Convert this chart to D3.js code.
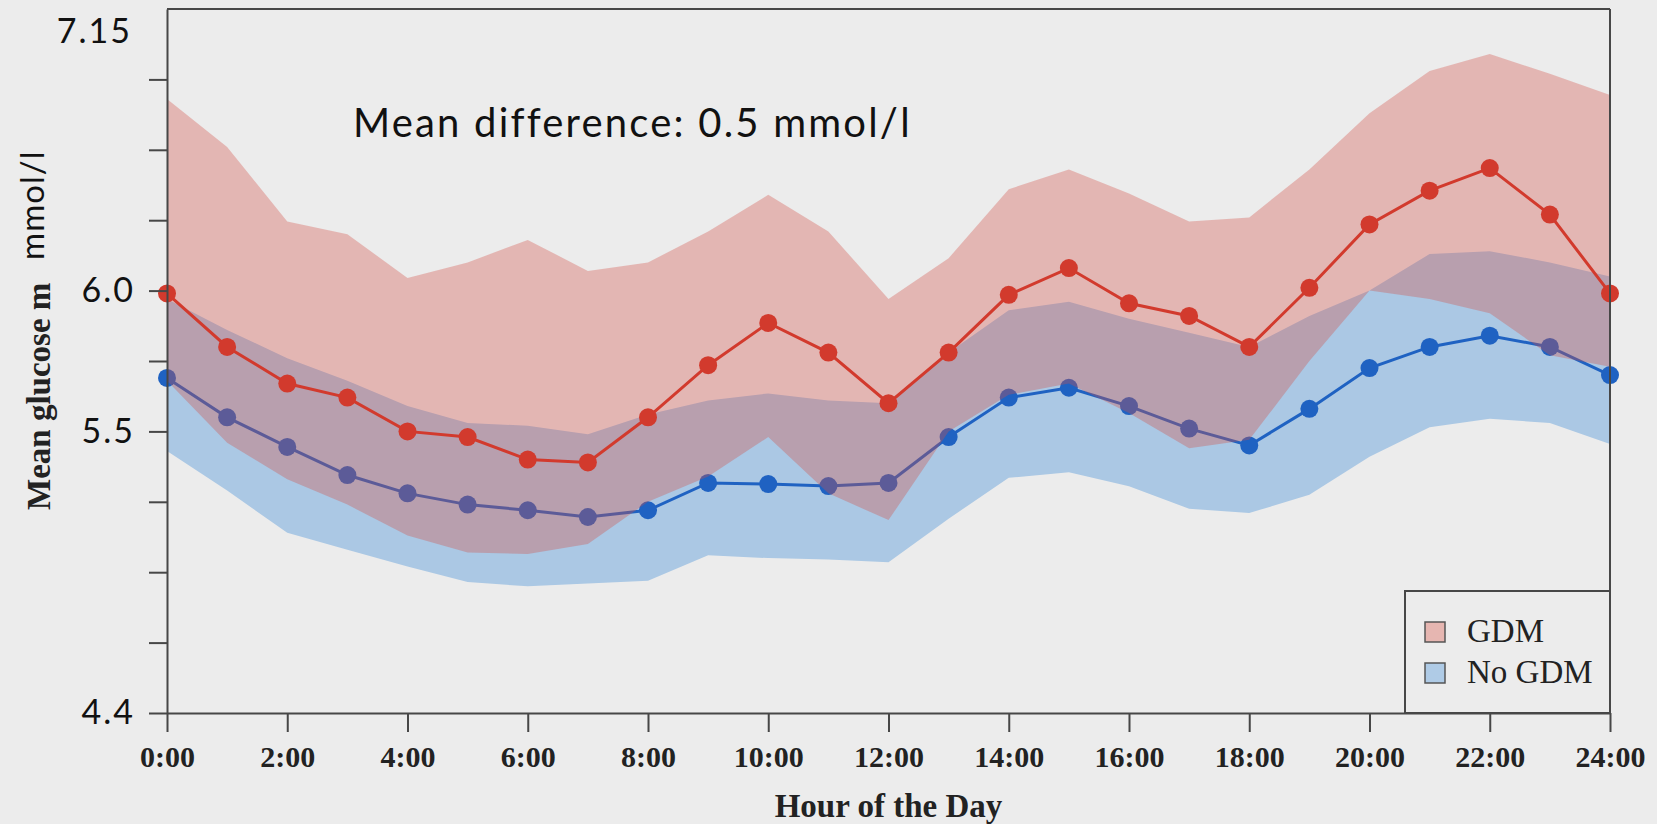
<!DOCTYPE html>
<meta charset="utf-8">
<head>
<style>
  body { margin: 0; background: #ececec; }
  svg { display: block; }
  .axis path, .axis line { stroke: #474747; stroke-width: 2px; }
  .ylab text { font-family: "Lato", sans-serif; font-size: 34px; letter-spacing: 2px; fill: #111; }
  .xlab text { font-family: "Liberation Serif", serif; font-weight: bold; font-size: 30px; fill: #222; }
</style>
</head>
<body>
<script src="https://d3js.org/d3.v7.min.js"></script>
<script>
// hours of the day
var hours = d3.range(0, 25);

// GDM group: mean and band
var gdmMean  = [5.99, 5.80, 5.67, 5.62, 5.50, 5.48, 5.40, 5.39, 5.55, 5.735, 5.885, 5.78, 5.60,
                5.78, 5.985, 6.08, 5.955, 5.91, 5.80, 6.01, 6.235, 6.355, 6.435, 6.27, 5.99];
var gdmUpper = [6.68, 6.51, 6.245, 6.20, 6.045, 6.10, 6.18, 6.07, 6.10, 6.21, 6.34, 6.21, 5.97,
                6.115, 6.36, 6.43, 6.345, 6.245, 6.26, 6.43, 6.63, 6.78, 6.84, 6.77, 6.695];
var gdmLower = [5.68, 5.46, 5.33, 5.24, 5.13, 5.07, 5.065, 5.10, 5.25, 5.34, 5.48, 5.28, 5.185,
                5.50, 5.63, 5.67, 5.565, 5.44, 5.47, 5.75, 6.0, 5.97, 5.92, 5.77, 5.73];

// No GDM group: mean and band
var noMean  = [5.69, 5.55, 5.445, 5.345, 5.28, 5.24, 5.22, 5.196, 5.22, 5.317, 5.313, 5.306, 5.317,
               5.48, 5.62, 5.655, 5.59, 5.51, 5.45, 5.58, 5.725, 5.80, 5.84, 5.80, 5.70];
var noUpper = [5.97, 5.86, 5.76, 5.68, 5.59, 5.53, 5.52, 5.49, 5.56, 5.61, 5.635, 5.61, 5.60,
               5.78, 5.93, 5.96, 5.90, 5.85, 5.80, 5.91, 6.0, 6.13, 6.14, 6.10, 6.05];
var noLower = [5.43, 5.29, 5.14, 5.08, 5.02, 4.965, 4.95, 4.96, 4.97, 5.06, 5.05, 5.045, 5.035,
               5.19, 5.335, 5.355, 5.305, 5.225, 5.21, 5.275, 5.41, 5.515, 5.545, 5.53, 5.455];

// axis ticks (labels as printed on the figure)
var xTicks = d3.range(0, 25, 2);
var yTicks = [4.5, 4.75, 5.0, 5.25, 5.5, 5.75, 6.0, 6.25, 6.5, 6.75];
var yTickText = ["4.4", "", "", "", "5.5", "", "6.0", "", "", ""];
var yTopText = "7.15";

var legendItems = [
  { name: "GDM", fill: "#e6b6b1" },
  { name: "No GDM", fill: "#afcbe6" }
];

var W = 1657, H = 824;
var margin = { top: 9, right: 47, bottom: 111, left: 167 },
    width = W - margin.left - margin.right,
    height = H - margin.top - margin.bottom;

var svg = d3.select("body").append("svg")
    .attr("width", W)
    .attr("height", H);

var g = svg.append("g")
    .attr("transform", "translate(" + margin.left + "," + margin.top + ")");

var x = d3.scaleLinear().domain([0, 24]).range([0, width]);
var y = d3.scaleLinear().domain([4.5, 7.0]).range([height, 0]);

var rows = hours.map(function(h, i) {
  return { h: h, gm: gdmMean[i], gu: gdmUpper[i], gl: gdmLower[i],
           nm: noMean[i], nu: noUpper[i], nl: noLower[i] };
});

// no GDM band + line
g.append("path").datum(rows)
  .attr("fill", "#abc8e4")
  .attr("d", d3.area().x(function(d) { return x(d.h); })
                      .y0(function(d) { return y(d.nl); })
                      .y1(function(d) { return y(d.nu); }));

g.append("path").datum(rows)
  .attr("fill", "none").attr("stroke", "#1f62c2").attr("stroke-width", 3)
  .attr("d", d3.line().x(function(d) { return x(d.h); }).y(function(d) { return y(d.nm); }));

g.selectAll(".dotN").data(rows).enter().append("circle")
  .attr("class", "dotN")
  .attr("cx", function(d) { return x(d.h); })
  .attr("cy", function(d) { return y(d.nm); })
  .attr("r", 9)
  .attr("fill", "#1f62c2");

// GDM band (translucent, over the blue) + line
g.append("path").datum(rows)
  .attr("fill", "rgb(212,78,71)").attr("fill-opacity", 0.34)
  .attr("d", d3.area().x(function(d) { return x(d.h); })
                      .y0(function(d) { return y(d.gl); })
                      .y1(function(d) { return y(d.gu); }));

g.append("path").datum(rows)
  .attr("fill", "none").attr("stroke", "#d23a2d").attr("stroke-width", 3)
  .attr("d", d3.line().x(function(d) { return x(d.h); }).y(function(d) { return y(d.gm); }));

g.selectAll(".dotG").data(rows).enter().append("circle")
  .attr("class", "dotG")
  .attr("cx", function(d) { return x(d.h); })
  .attr("cy", function(d) { return y(d.gm); })
  .attr("r", 9)
  .attr("fill", "#d23a2d");

// frame: top and right
g.append("line").attr("x1", 0).attr("x2", width).attr("y1", 0).attr("y2", 0)
  .attr("stroke", "#474747").attr("stroke-width", 2);
g.append("line").attr("x1", width).attr("x2", width).attr("y1", 0).attr("y2", height)
  .attr("stroke", "#474747").attr("stroke-width", 2);

// x axis
g.append("g")
  .attr("class", "axis xlab")
  .attr("transform", "translate(0," + height + ")")
  .call(d3.axisBottom(x).tickValues(xTicks).tickSize(19).tickPadding(14)
        .tickSizeOuter(0)
        .tickFormat(function(d) { return d + ":00"; }));

// y axis
g.append("g")
  .attr("class", "axis ylab")
  .call(d3.axisLeft(y).tickValues(yTicks).tickSize(18).tickPadding(14)
        .tickSizeOuter(0)
        .tickFormat(function(d, i) { return yTickText[i]; }));

g.append("text")
  .attr("x", -35).attr("y", y(7.0) + 22)
  .attr("dy", "0.35em")
  .attr("text-anchor", "end")
  .style("font-family", "Lato, sans-serif").style("font-size", "34px")
  .style("letter-spacing", "2px").style("fill", "#111")
  .text(yTopText);

// axis titles
g.append("text")
  .attr("x", width / 2).attr("y", height + 104)
  .attr("text-anchor", "middle")
  .style("font-family", "Liberation Serif, serif").style("font-weight", "bold")
  .style("font-size", "33px").style("fill", "#222")
  .text("Hour of the Day");

svg.append("text")
  .attr("transform", "translate(50,510) rotate(-90)")
  .attr("text-anchor", "start")
  .style("font-family", "Liberation Serif, serif").style("font-weight", "bold")
  .style("font-size", "33px").style("fill", "#222")
  .text("Mean glucose m");

svg.append("text")
  .attr("transform", "translate(44,260) rotate(-90)")
  .attr("text-anchor", "start")
  .style("font-family", "Lato, sans-serif")
  .style("font-size", "33px").style("letter-spacing", "1px").style("fill", "#111")
  .text("mmol/l");

// annotation
g.append("text")
  .attr("x", 186).attr("y", 128)
  .style("font-family", "Lato, sans-serif")
  .style("font-size", "40px").style("letter-spacing", "2.2px").style("fill", "#111")
  .text("Mean difference: 0.5 mmol/l");

// legend
var lg = g.append("g").attr("transform", "translate(" + (width - 205) + "," + (height - 122) + ")");
lg.append("rect").attr("width", 205).attr("height", 122)
  .attr("fill", "#ececec").attr("stroke", "#474747").attr("stroke-width", 2);
var li = lg.selectAll(".li").data(legendItems).enter().append("g")
  .attr("transform", function(d, i) { return "translate(20," + (31 + i * 41) + ")"; });
li.append("rect").attr("width", 20).attr("height", 20)
  .attr("fill", function(d) { return d.fill; })
  .attr("stroke", "#555").attr("stroke-width", 1.5);
li.append("text").attr("x", 42).attr("y", 20)
  .style("font-family", "Liberation Serif, serif").style("font-size", "33px").style("fill", "#222")
  .text(function(d) { return d.name; });
</script>
</body>
